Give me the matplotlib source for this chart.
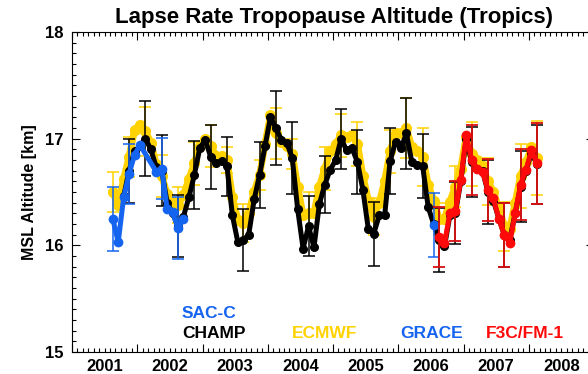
import numpy as np
import matplotlib
matplotlib.use('Agg')
import matplotlib.pyplot as plt

plt.rcParams['font.family'] = ['Liberation Sans', 'DejaVu Sans']
plt.rcParams['font.weight'] = 'bold'

# month index: 1 = Jan 2001
sacc_months = [8, 9, 10, 11, 12, 13, 16, 17, 18, 19, 20, 21]
sacc_vals = [16.25, 16.03, 16.45, 16.67, 16.85, 16.94, 16.69, 16.72, 16.34, 16.31, 16.16, 16.25]
sacc_err_months = [8, 11, 17, 20]
sacc_err = [0.30, 0.28, 0.29, 0.29]

champ_first = 10
champ_vals = [16.46, 16.70, 16.88, 16.93, 17.00, 16.90, 16.73, 16.70, 16.40, 16.30,
              16.18, 16.27, 16.45, 16.66, 16.91, 16.99, 16.83, 16.77, 16.79, 16.74,
              16.28, 16.03, 16.05, 16.10, 16.43, 16.66, 16.93, 17.20, 17.10, 16.99,
              16.96, 16.82, 16.34, 15.97, 16.18, 15.98, 16.39, 16.57, 16.71, 16.80,
              17.00, 16.89, 16.91, 16.78, 16.52, 16.15, 16.11, 16.28, 16.28, 16.79,
              16.97, 16.91, 17.05, 16.78, 16.75, 16.74, 16.36, 16.20, 16.05, 15.99,
              16.28, 16.30, 16.60, 17.00, 16.78, 16.72, 16.70, 16.50, 16.42, 16.25,
              16.10, 16.05, 16.30, 16.55, 16.70, 16.87, 16.76]
champ_err_months = [11, 14, 17, 20, 23, 26, 29, 32, 35, 38, 41, 44, 47, 50, 53, 56,
                    59, 62, 65, 68, 71, 74, 77, 80, 83, 86]
champ_err = [0.30, 0.35, 0.33, 0.29, 0.32, 0.30, 0.28, 0.29, 0.31, 0.35, 0.34, 0.28,
             0.27, 0.28, 0.30, 0.30, 0.31, 0.33, 0.30, 0.30, 0.29, 0.33, 0.30, 0.30,
             0.33, 0.37]

ecmwf_first = 8
ecmwf_vals = [16.50, 16.38, 16.62, 16.83, 17.08, 17.13, 17.07, 16.96, 16.76, 16.65,
              16.48, 16.41, 16.38, 16.47, 16.62, 16.77, 16.93, 17.00, 16.93, 16.84,
              16.84, 16.80, 16.45, 16.24, 16.21, 16.30, 16.50, 16.66, 16.95, 17.22,
              17.05, 16.97, 16.93, 16.86, 16.55, 16.28, 16.30, 16.30, 16.55, 16.72,
              16.88, 16.95, 17.03, 17.02, 17.03, 16.95, 16.65, 16.42, 16.27, 16.40,
              16.60, 16.88, 17.05, 17.05, 17.10, 16.92, 16.88, 16.83, 16.57, 16.42,
              16.25, 16.25, 16.41, 16.55, 16.72, 17.02, 16.86, 16.80, 16.74, 16.60,
              16.50, 16.35, 16.18, 16.15, 16.40, 16.65, 16.78, 16.92, 16.82]
ecmwf_err_months = list(range(8, 87, 3))
ecmwf_err = [0.19, 0.19, 0.23, 0.20, 0.17, 0.20, 0.20, 0.12, 0.18, 0.14, 0.24, 0.14,
             0.20, 0.20, 0.20, 0.21, 0.17, 0.20, 0.28, 0.27, 0.15, 0.19, 0.30, 0.22,
             0.23, 0.30, 0.35]

grace_months = [67]
grace_vals = [16.19]
grace_err = [0.30]

f3c_first = 68
f3c_vals = [16.08, 16.02, 16.30, 16.32, 16.61, 17.03, 16.80, 16.72, 16.69, 16.52,
            16.44, 16.25, 16.10, 16.02, 16.30, 16.57, 16.71, 16.89, 16.77]
f3c_err_months = [68, 71, 74, 77, 80, 83, 86]
f3c_err = [0.28, 0.28, 0.33, 0.29, 0.30, 0.33, 0.38]

years = list(range(2001, 2009))

BLUE = '#1464F0'
GOLD = '#FFD200'
RED = '#FF0A0A'


def to_year(months):
    return 2001 + (np.asarray(months, dtype=float) - 0.5) / 12.0


def pick(first, vals, months):
    return [vals[m - first] for m in months]


def bars(months, vals, err, color, lw=1.1):
    ax.errorbar(to_year(months), vals, yerr=err, fmt='none', ecolor=color,
                elinewidth=lw, capsize=4.5, capthick=lw)


fig = plt.figure(figsize=(5.88, 3.74), dpi=100)
ax = fig.add_axes([72 / 588, 22 / 374, 522 / 588, 320 / 374])

# ECMWF
em = np.arange(ecmwf_first, ecmwf_first + len(ecmwf_vals))
bars(ecmwf_err_months, pick(ecmwf_first, ecmwf_vals, ecmwf_err_months), ecmwf_err, GOLD)
ax.plot(to_year(em), ecmwf_vals, '-o', color=GOLD, lw=5.0, ms=7)

# CHAMP
cm = np.arange(champ_first, champ_first + len(champ_vals))
bars(champ_err_months, pick(champ_first, champ_vals, champ_err_months), champ_err, 'black')
ax.plot(to_year(cm), champ_vals, '-o', color='black', lw=3.6, ms=5.5)

# SAC-C
sacc_err_vals = [sacc_vals[sacc_months.index(m)] for m in sacc_err_months]
bars(sacc_err_months, sacc_err_vals, sacc_err, BLUE)
ax.plot(to_year(sacc_months), sacc_vals, '-o', color=BLUE, lw=3.6, ms=6)

# GRACE
bars(grace_months, grace_vals, grace_err, BLUE)
ax.plot(to_year(grace_months), grace_vals, 'o', color=BLUE, ms=6)

# F3C/FM-1
fm = np.arange(f3c_first, f3c_first + len(f3c_vals))
bars(f3c_err_months, pick(f3c_first, f3c_vals, f3c_err_months), f3c_err, '#D81010', lw=1.3)
ax.plot(to_year(fm), f3c_vals, '-o', color=RED, lw=3.6, ms=6)

ax.set_xlim(2001, 2009)
ax.set_ylim(15, 18)
ax.set_xticks(np.arange(2001, 2010))
ax.set_xticklabels([])
ax.set_xticks(np.arange(2001, 2009, 1 / 12), minor=True)
ax.set_yticks([15, 16, 17, 18])
ax.set_yticks(np.arange(15, 18, 0.1), minor=True)
ax.tick_params(which='both', direction='in', top=True, right=True, width=0.8)
ax.tick_params(which='major', length=6)
ax.tick_params(which='minor', length=3)
ax.tick_params(axis='y', labelsize=12, pad=6)
for lab in ax.get_yticklabels():
    lab.set_fontweight('bold')
for sp in ax.spines.values():
    sp.set_linewidth(0.8)

for yr in years:
    ax.text(yr + 0.5, -0.045, str(yr), transform=ax.get_xaxis_transform(),
            ha='center', va='center', fontsize=12, fontweight='bold')

ax.set_ylabel('MSL Altitude [km]', fontsize=11.5, fontweight='bold', labelpad=6)
fig.text(334 / 588, 1 - 17 / 374, 'Lapse Rate Tropopause Altitude (Tropics)',
         ha='center', va='center', fontsize=16, fontweight='bold')

fig.text(182 / 588, 1 - 313 / 374, 'SAC-C', color=BLUE, fontsize=12.5, fontweight='bold', va='center')
fig.text(182 / 588, 1 - 333 / 374, 'CHAMP', color='black', fontsize=12.5, fontweight='bold', va='center')
fig.text(292 / 588, 1 - 333 / 374, 'ECMWF', color=GOLD, fontsize=12.5, fontweight='bold', va='center')
fig.text(400 / 588, 1 - 333 / 374, 'GRACE', color=BLUE, fontsize=12.5, fontweight='bold', va='center')
fig.text(486 / 588, 1 - 333 / 374, 'F3C/FM-1', color=RED, fontsize=12.5, fontweight='bold', va='center')

fig.savefig('out.png', dpi=100)
